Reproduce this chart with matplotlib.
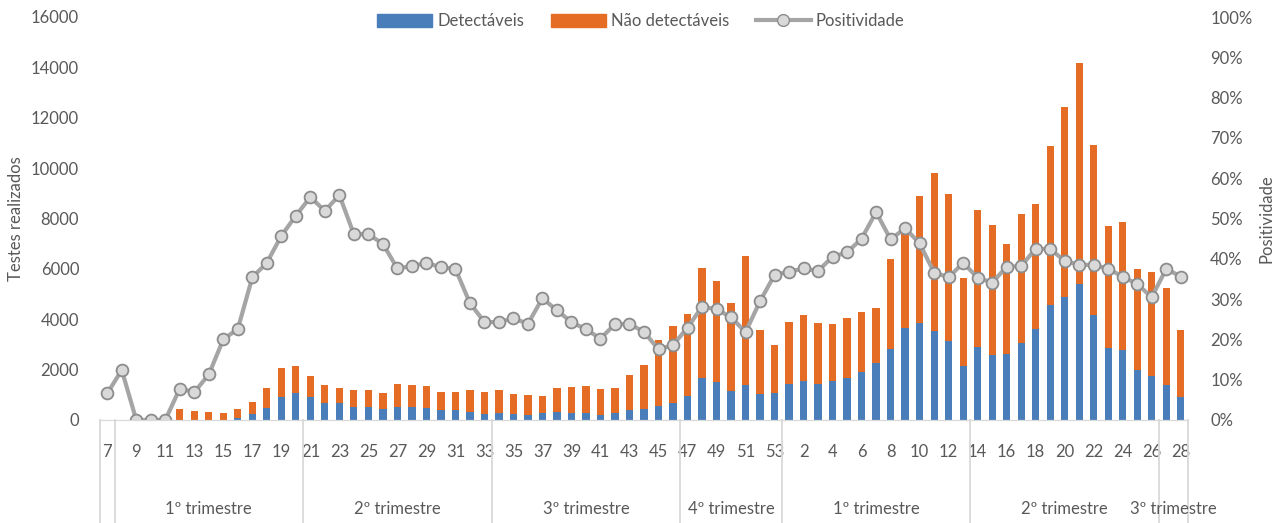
import matplotlib.pyplot as plt
from matplotlib.patches import Patch
from matplotlib.lines import Line2D
from matplotlib.ticker import FuncFormatter

plt.rcParams['font.family'] = ['Lato', 'DejaVu Sans']

# semanas epidemiologicas: 2020 (7..53) e 2021 (1..28)
semanas = list(range(7, 54)) + list(range(1, 29))

detectaveis = [0, 0, 0, 0, 0, 0, 0, 0, 0, 90, 240, 490, 910, 1060,
               910, 660, 660, 520, 520, 440, 520, 520, 480, 400, 400, 320, 240,
               280, 240, 200, 280, 320, 280, 280, 200, 280, 400, 440, 560, 680,
               950, 1650, 1500, 1150, 1380, 1020, 1060,
               1420, 1540, 1420, 1540, 1650, 1890, 2250, 2830, 3660, 3850, 3530, 3150, 2160,
               2910, 2590, 2630, 3060, 3610, 4570, 4900, 5400, 4170, 2870, 2770, 1970, 1740,
               1380, 900]

nao_detectaveis = [0, 0, 0, 0, 0, 440, 360, 310, 270, 350, 460, 770, 1140, 1100,
                   830, 720, 600, 670, 670, 620, 900, 860, 860, 700, 700, 860, 860,
                   900, 810, 780, 660, 940, 1020, 1060, 1020, 980, 1370, 1730, 2630, 3060,
                   3260, 4380, 4020, 3490, 5130, 2550, 1930,
                   2470, 2630, 2440, 2280, 2410, 2400, 2200, 3560, 4040, 5050, 6280, 5830, 3480,
                   5440, 5160, 4370, 5130, 4980, 6310, 7510, 8760, 6730, 4840, 5100, 4010, 4150,
                   3860, 2690]

positividade = [6.6, 12.4, 0, 0, 0, 7.8, 6.9, 11.3, 20.0, 22.6, 35.4, 39.0, 45.7, 50.7,
                55.3, 51.9, 55.8, 46.1, 46.1, 43.7, 37.6, 38.2, 39.0, 37.9, 37.5, 29.0, 24.3,
                24.3, 25.2, 23.9, 30.2, 27.2, 24.3, 22.5, 20.2, 23.8, 23.8, 21.9, 17.5, 18.6,
                22.9, 28.1, 27.5, 25.5, 21.8, 29.5, 36.0,
                36.8, 37.6, 37.0, 40.5, 41.6, 45.0, 51.6, 44.8, 47.6, 43.8, 36.6, 35.4, 39.0,
                35.3, 34.1, 38.0, 38.2, 42.5, 42.4, 39.5, 38.5, 38.5, 37.5, 35.6, 33.7, 30.5,
                37.5, 35.6]

# grupos (trimestres): rotulo, indice inicial, indice final
trimestres = [('', 0, 0),
              ('1º trimestre', 1, 13),
              ('2º trimestre', 14, 26),
              ('3º trimestre', 27, 39),
              ('4º trimestre', 40, 46),
              ('1º trimestre', 47, 59),
              ('2º trimestre', 60, 72),
              ('3º trimestre', 73, 74)]

azul = '#4A7EBB'
laranja = '#E56C24'
cinza_txt = '#595959'

x = list(range(len(semanas)))

fig = plt.figure(figsize=(12.77, 5.23), dpi=100)
ax = fig.add_axes([100 / 1277, 1 - 420 / 523, 1088 / 1277, 403 / 523])
ax2 = ax.twinx()

ax.bar(x, detectaveis, width=0.5, color=azul)
ax.bar(x, nao_detectaveis, width=0.5, bottom=detectaveis, color=laranja)
ax.set_ylim(0, 16000)
ax.set_yticks(range(0, 16001, 2000))
ax.set_xlim(-0.5, len(semanas) - 0.5)

ax2.plot(x, positividade, color='#A5A5A5', lw=3, marker='o', ms=8.5,
         mfc='#D9D9D9', mec='#8C8C8C', mew=1.3)
ax2.set_ylim(0, 100)
ax2.set_yticks(range(0, 101, 10))
ax2.yaxis.set_major_formatter(FuncFormatter(lambda v, p: f'{v:.0f}%'))

for a in (ax, ax2):
    for s in ('top', 'left', 'right'):
        a.spines[s].set_visible(False)
    a.spines['bottom'].set_color('#D9D9D9')
    a.tick_params(axis='y', length=0, labelsize=12, labelcolor=cinza_txt)

ax.tick_params(axis='y', pad=15)
ax2.tick_params(axis='y', pad=16)

ax.set_xticks(x[::2])
ax.set_xticklabels([str(s) for s in semanas[::2]])
ax.tick_params(axis='x', length=0, pad=17, labelsize=12, labelcolor=cinza_txt)

ax.set_ylabel('Testes realizados', fontsize=12, color=cinza_txt, labelpad=5)
ax2.set_ylabel('Positividade', fontsize=12, color=cinza_txt, labelpad=4)

# eixo de categorias em dois niveis
trans = ax.get_xaxis_transform()
fundo = -103 / 403
for nome, i0, i1 in trimestres:
    ax.plot([i0 - 0.5, i0 - 0.5], [0, fundo], transform=trans, color='#D9D9D9',
            lw=1.3, clip_on=False)
    if nome:
        ax.text((i0 + i1) / 2, -89 / 403, nome, transform=trans, ha='center',
                va='center', fontsize=12, color=cinza_txt)
ax.plot([len(semanas) - 0.5] * 2, [0, fundo], transform=trans, color='#D9D9D9',
        lw=1.3, clip_on=False)

handles = [Patch(color=azul, label='Detectáveis'),
           Patch(color=laranja, label='Não detectáveis'),
           Line2D([], [], color='#A5A5A5', lw=3, marker='o', ms=8.5, mfc='#D9D9D9',
                  mec='#8C8C8C', label='Positividade')]
leg = fig.legend(handles=handles, loc='center', bbox_to_anchor=(0.502, 1 - 21 / 523),
                 ncol=3, frameon=False, fontsize=12, handlelength=3.3, handleheight=0.8,
                 columnspacing=1.6, handletextpad=0.3)
for t in leg.get_texts():
    t.set_color(cinza_txt)

fig.savefig('out.png', dpi=100)
